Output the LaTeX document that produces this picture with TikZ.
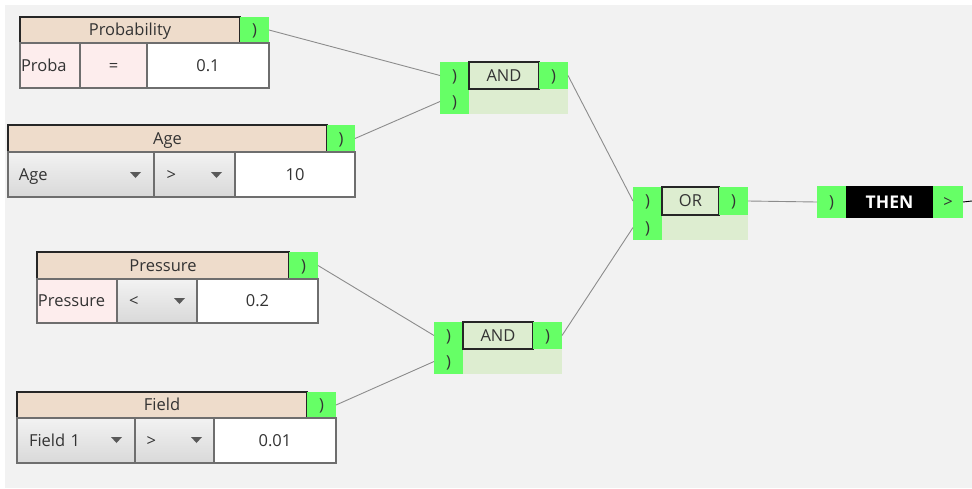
\documentclass[tikz,border=0pt]{standalone}
\usepackage{fontspec}
\setmainfont{Open Sans}
\definecolor{bgc}{HTML}{F2F2F2}
\definecolor{tan}{HTML}{EEDCCB}
\definecolor{pnk}{HTML}{FDEDED}
\definecolor{grn}{HTML}{66FF66}
\definecolor{lgr}{HTML}{DDEDD0}
\definecolor{txt}{HTML}{333333}
\definecolor{rowb}{HTML}{6E6E6E}
\definecolor{conn}{HTML}{8C8C8C}
\begin{document}
\begin{tikzpicture}[x=1pt,y=-1pt,
  every node/.style={inner sep=0pt,outer sep=0pt,anchor=north west,text=txt,font=\fontsize{16.5}{18}\selectfont,text height=11.5pt,text depth=0pt},
  hdr/.style={fill=tan,draw=black!85,line width=1.4pt},
  gbox/.style={fill=grn},
  lbox/.style={fill=lgr},
  opbox/.style={fill=lgr,draw=black!85,line width=1.4pt},
  pcell/.style={fill=pnk,draw=rowb,line width=1.4pt},
  dcell/.style={top color=black!5,bottom color=black!15,draw=rowb,line width=1.4pt},
  vcell/.style={fill=white,draw=rowb,line width=1.4pt},
  conline/.style={draw=conn,line width=0.9pt},
  tri/.style={fill=black!65,draw=none}
]
\useasboundingbox (0,0) rectangle (972,488);
\fill[bgc] (5,5) rectangle (972,488);

% ---------- Probability ----------
\node[hdr,minimum width=220,minimum height=26] (ph) at (20,17) {Probability};
\node[gbox,minimum width=29,minimum height=26] (pg) at (240,17) {)};
\node[pcell,minimum width=60,minimum height=45,text width=59,align=left] (pc1) at (20,43) {\hspace{0.5pt}Proba};
\node[pcell,minimum width=67,minimum height=45] (pc2) at (80,43) {=};
\node[vcell,minimum width=122,minimum height=45] (pc3) at (147,43) {0.1};

% ---------- Age ----------
\node[hdr,minimum width=319,minimum height=27] (ah) at (8,125) {Age};
\node[gbox,minimum width=28,minimum height=27] (ag) at (327,125) {)};
\node[dcell,minimum width=146,minimum height=45,text width=132,align=left] (ac1) at (8,152) {\hspace{4pt}Age};
\node[dcell,minimum width=81,minimum height=45,text width=70,align=left] (ac2) at (154,152) {\hspace{7pt}>};
\node[vcell,minimum width=120,minimum height=45] (ac3) at (235,152) {10};
\fill[tri] (130,172) -- (141,172) -- (135.5,178) -- cycle;
\fill[tri] (211,172) -- (222,172) -- (216.5,178) -- cycle;

% ---------- Pressure ----------
\node[hdr,minimum width=252,minimum height=27] (prh) at (37,252) {Pressure};
\node[gbox,minimum width=29,minimum height=27] (prg) at (289,252) {)};
\node[pcell,minimum width=80,minimum height=44,text width=79,align=left] (prc1) at (37,279) {\hspace{0.5pt}Pressure};
\node[dcell,minimum width=80,minimum height=44,text width=70,align=left] (prc2) at (117,279) {\hspace{7pt}<};
\node[vcell,minimum width=121,minimum height=44] (prc3) at (197,279) {0.2};
\fill[tri] (174,298) -- (185,298) -- (179.5,304) -- cycle;

% ---------- Field ----------
\node[hdr,minimum width=290,minimum height=26] (fh) at (17,392) {Field};
\node[gbox,minimum width=29,minimum height=26] (fg) at (307,392) {)};
\node[dcell,minimum width=118,minimum height=45,text width=106,align=left] (fc1) at (17,418) {\hspace{6pt}Field 1};
\node[dcell,minimum width=79,minimum height=45,text width=70,align=left] (fc2) at (135,418) {\hspace{7pt}>};
\node[vcell,minimum width=122,minimum height=45] (fc3) at (214,418) {0.01};
\fill[tri] (111,437) -- (122,437) -- (116.5,443) -- cycle;
\fill[tri] (191,437) -- (202,437) -- (196.5,443) -- cycle;

% ---------- AND 1 ----------
\node[lbox,minimum width=99,minimum height=25] (a1l) at (469,89) {};
\node[gbox,minimum width=29,minimum height=27] (a1a) at (440,62) {)};
\node[gbox,minimum width=29,minimum height=25] (a1b) at (440,89) {)};
\node[opbox,minimum width=70,minimum height=27] (a1op) at (469,62) {AND};
\node[gbox,minimum width=29,minimum height=27] (a1r) at (539,62) {)};

% ---------- AND 2 ----------
\node[lbox,minimum width=99,minimum height=25] (a2l) at (463,349) {};
\node[gbox,minimum width=29,minimum height=27] (a2a) at (434,322) {)};
\node[gbox,minimum width=29,minimum height=25] (a2b) at (434,349) {)};
\node[opbox,minimum width=70,minimum height=27] (a2op) at (463,322) {AND};
\node[gbox,minimum width=29,minimum height=27] (a2r) at (533,322) {)};

% ---------- OR ----------
\node[lbox,minimum width=86,minimum height=25] (orl) at (662,215) {};
\node[gbox,minimum width=29,minimum height=28] (ora) at (633,187) {)};
\node[gbox,minimum width=29,minimum height=25] (orb) at (633,215) {)};
\node[opbox,minimum width=57,minimum height=28] (orop) at (662,187) {OR};
\node[gbox,minimum width=29,minimum height=28] (orr) at (719,187) {)};

% ---------- THEN ----------
\node[gbox,minimum width=29,minimum height=32] (tl) at (817,186) {)};
\node[fill=black,minimum width=87,minimum height=32,text=white,font=\fontsize{17.5}{19}\selectfont\bfseries,text height=12.5pt,text depth=0pt] (tt) at (846,186) {THEN};
\node[gbox,minimum width=30,minimum height=32] (tr) at (933,186) {>};
\coordinate (tend) at (972,201);

% ---------- connectors ----------
\draw[conline] (pg.east) -- (a1a.west);
\draw[conline] (ag.east) -- (a1b.west);
\draw[conline] (prg.east) -- (a2a.west);
\draw[conline] (fg.east) -- (a2b.west);
\draw[conline] (a1r.east) -- (ora.west);
\draw[conline] (a2r.east) -- (orb.west);
\draw[conline] (orr.east) -- (tl.west);
\draw[black,line width=0.9pt] (tr.east) -- (tend);
\end{tikzpicture}
\end{document}
